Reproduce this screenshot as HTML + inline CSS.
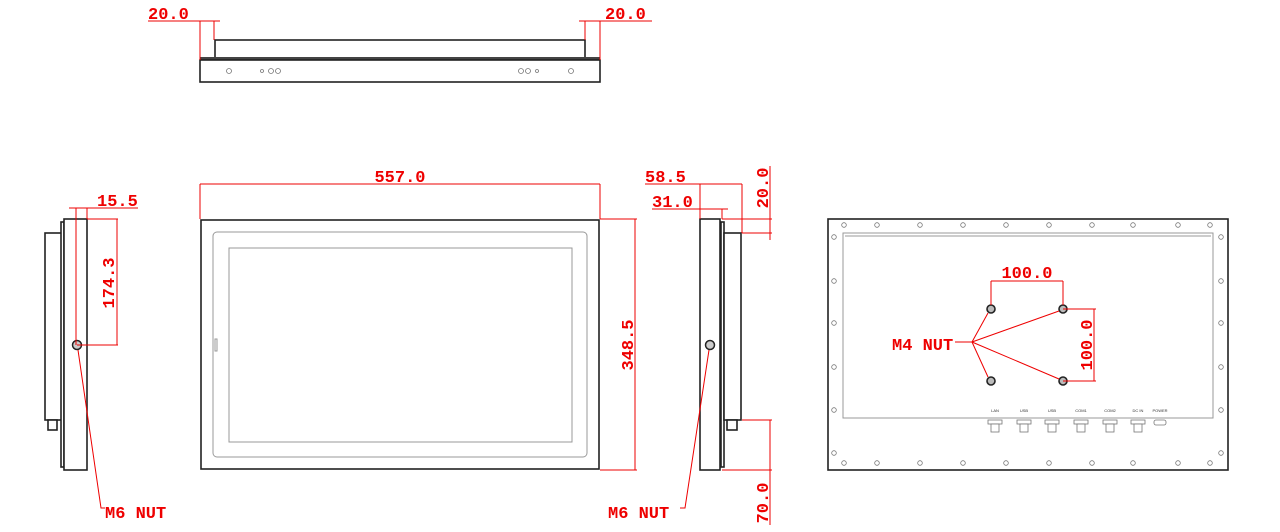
<!DOCTYPE html>
<html><head><meta charset="utf-8"><style>
html,body{margin:0;padding:0;background:#fff;}
svg{display:block;}
.d{font-family:"Liberation Mono",monospace;font-weight:bold;font-size:17px;fill:#e00;}
.r{stroke:#e00;stroke-width:1;fill:none;}
.k{stroke:#222;stroke-width:1.6;fill:#fff;}
.g{stroke:#999;stroke-width:1;fill:none;}
.s{stroke:#777;stroke-width:0.8;fill:#fff;}
.p{font-family:"Liberation Sans",sans-serif;font-size:4px;fill:#333;}
</style></head><body>
<svg width="1280" height="532" viewBox="0 0 1280 532" xmlns="http://www.w3.org/2000/svg">
<!-- TOP VIEW -->
<rect class="k" x="215" y="40" width="370" height="18"/>
<rect x="200" y="57" width="400" height="3" fill="#444"/>
<rect class="k" x="200" y="60" width="400" height="22"/>
<g class="s"><circle cx="229" cy="71" r="2.5"/><circle cx="262" cy="71" r="1.5"/><circle cx="271" cy="71" r="2.5"/><circle cx="278" cy="71" r="2.5"/><circle cx="521" cy="71" r="2.5"/><circle cx="528" cy="71" r="2.5"/><circle cx="537" cy="71" r="1.5"/><circle cx="571" cy="71" r="2.5"/></g>
<line class="r" x1="148" y1="21" x2="220" y2="21"/><line class="r" x1="200" y1="21" x2="200" y2="60"/><line class="r" x1="214" y1="21" x2="214" y2="40"/>
<text class="d" x="148" y="19">20.0</text>
<line class="r" x1="579" y1="21" x2="652" y2="21"/><line class="r" x1="585" y1="21" x2="585" y2="40"/><line class="r" x1="600" y1="21" x2="600" y2="60"/>
<text class="d" x="605" y="19">20.0</text>

<!-- LEFT SIDE VIEW -->
<rect class="k" x="45" y="233" width="17" height="187"/>
<rect class="k" x="61" y="222" width="3" height="245" stroke-width="1"/>
<rect class="k" x="64" y="219" width="23" height="251"/>
<rect class="k" x="48" y="420" width="9" height="10" stroke-width="1"/>
<circle cx="77" cy="345" r="4.5" fill="#ccc" stroke="#222" stroke-width="1.5"/>
<line class="r" x1="69" y1="208" x2="138" y2="208"/><line class="r" x1="76" y1="208" x2="76" y2="345"/><line class="r" x1="87" y1="208" x2="87" y2="219"/>
<text class="d" x="97" y="206">15.5</text>
<line class="r" x1="87" y1="219" x2="118" y2="219"/><line class="r" x1="77" y1="345" x2="118" y2="345"/><line class="r" x1="117" y1="219" x2="117" y2="345"/>
<text class="d" transform="translate(114,283) rotate(-90)" text-anchor="middle">174.3</text>
<polyline class="r" points="78,350 101,508 105,508"/>
<text class="d" x="105" y="518">M6 NUT</text>

<!-- FRONT VIEW -->
<rect class="k" x="201" y="220" width="398" height="249"/>
<rect class="g" x="213" y="232" width="374" height="225" rx="4"/>
<rect class="g" x="229" y="248" width="343" height="194" stroke-width="1.5"/>
<rect class="g" x="215" y="339" width="2" height="12"/>
<line class="r" x1="200" y1="184" x2="600" y2="184"/><line class="r" x1="200" y1="184" x2="200" y2="219"/><line class="r" x1="600" y1="184" x2="600" y2="219"/>
<text class="d" x="400" y="182" text-anchor="middle">557.0</text>
<line class="r" x1="600" y1="219" x2="637" y2="219"/><line class="r" x1="600" y1="470" x2="637" y2="470"/><line class="r" x1="635" y1="219" x2="635" y2="470"/>
<text class="d" transform="translate(633,345) rotate(-90)" text-anchor="middle">348.5</text>

<!-- RIGHT SIDE VIEW -->
<rect class="k" x="700" y="219" width="20" height="251"/>
<rect class="k" x="721" y="222" width="3" height="245" stroke-width="1"/>
<rect class="k" x="724" y="233" width="17" height="187"/>
<rect class="k" x="727" y="420" width="10" height="10" stroke-width="1"/>
<circle cx="710" cy="345" r="4.5" fill="#ccc" stroke="#222" stroke-width="1.5"/>
<line class="r" x1="645" y1="184" x2="742" y2="184"/><line class="r" x1="700" y1="184" x2="700" y2="219"/><line class="r" x1="742" y1="184" x2="742" y2="233"/>
<text class="d" x="645" y="182">58.5</text>
<line class="r" x1="652" y1="209" x2="728" y2="209"/><line class="r" x1="722" y1="209" x2="722" y2="219"/>
<text class="d" x="652" y="207">31.0</text>
<line class="r" x1="722" y1="219" x2="772" y2="219"/><line class="r" x1="742" y1="233" x2="772" y2="233"/><line class="r" x1="770" y1="166" x2="770" y2="240"/>
<text class="d" transform="translate(768,188) rotate(-90)" text-anchor="middle">20.0</text>
<line class="r" x1="742" y1="420" x2="772" y2="420"/><line class="r" x1="722" y1="470" x2="772" y2="470"/><line class="r" x1="770" y1="420" x2="770" y2="525"/>
<text class="d" transform="translate(768,503) rotate(-90)" text-anchor="middle">70.0</text>
<polyline class="r" points="709,350 685,508 680,508"/>
<text class="d" x="608" y="518">M6 NUT</text>

<!-- BACK VIEW -->
<rect class="k" x="828" y="219" width="400" height="251"/>
<rect class="g" x="843" y="233" width="370" height="185"/>
<line class="g" x1="845" y1="236" x2="1211" y2="236"/>
<g class="s">
<circle cx="844" cy="225" r="2.3"/><circle cx="877" cy="225" r="2.3"/><circle cx="920" cy="225" r="2.3"/><circle cx="963" cy="225" r="2.3"/><circle cx="1006" cy="225" r="2.3"/><circle cx="1049" cy="225" r="2.3"/><circle cx="1092" cy="225" r="2.3"/><circle cx="1133" cy="225" r="2.3"/><circle cx="1178" cy="225" r="2.3"/><circle cx="1210" cy="225" r="2.3"/>
<circle cx="844" cy="463" r="2.3"/><circle cx="877" cy="463" r="2.3"/><circle cx="920" cy="463" r="2.3"/><circle cx="963" cy="463" r="2.3"/><circle cx="1006" cy="463" r="2.3"/><circle cx="1049" cy="463" r="2.3"/><circle cx="1092" cy="463" r="2.3"/><circle cx="1133" cy="463" r="2.3"/><circle cx="1178" cy="463" r="2.3"/><circle cx="1210" cy="463" r="2.3"/>
<circle cx="834" cy="237" r="2.3"/><circle cx="834" cy="281" r="2.3"/><circle cx="834" cy="323" r="2.3"/><circle cx="834" cy="367" r="2.3"/><circle cx="834" cy="410" r="2.3"/><circle cx="834" cy="453" r="2.3"/>
<circle cx="1221" cy="237" r="2.3"/><circle cx="1221" cy="281" r="2.3"/><circle cx="1221" cy="323" r="2.3"/><circle cx="1221" cy="367" r="2.3"/><circle cx="1221" cy="410" r="2.3"/><circle cx="1221" cy="453" r="2.3"/>
</g>
<g class="s">
<rect x="988" y="420" width="14" height="4"/><rect x="991" y="424" width="8" height="8"/>
<rect x="1017" y="420" width="14" height="4"/><rect x="1020" y="424" width="8" height="8"/>
<rect x="1045" y="420" width="14" height="4"/><rect x="1048" y="424" width="8" height="8"/>
<rect x="1074" y="420" width="14" height="4"/><rect x="1077" y="424" width="8" height="8"/>
<rect x="1103" y="420" width="14" height="4"/><rect x="1106" y="424" width="8" height="8"/>
<rect x="1131" y="420" width="14" height="4"/><rect x="1134" y="424" width="8" height="8"/>
<rect x="1154" y="420" width="12" height="5" rx="2"/>
</g>
<g class="p" text-anchor="middle">
<text x="995" y="412">LAN</text><text x="1024" y="412">USB</text><text x="1052" y="412">USB</text><text x="1081" y="412">COM1</text><text x="1110" y="412">COM2</text><text x="1138" y="412">DC IN</text><text x="1160" y="412">POWER</text>
</g>
<g fill="#bbb" stroke="#222" stroke-width="1.6">
<circle cx="991" cy="309" r="4"/><circle cx="1063" cy="309" r="4"/><circle cx="991" cy="381" r="4"/><circle cx="1063" cy="381" r="4"/>
</g>
<line class="r" x1="991" y1="281" x2="1063" y2="281"/><line class="r" x1="991" y1="281" x2="991" y2="305"/><line class="r" x1="1063" y1="281" x2="1063" y2="305"/>
<text class="d" x="1027" y="278" text-anchor="middle">100.0</text>
<line class="r" x1="1063" y1="309" x2="1096" y2="309"/><line class="r" x1="1063" y1="381" x2="1096" y2="381"/><line class="r" x1="1094" y1="309" x2="1094" y2="381"/>
<text class="d" transform="translate(1092,345) rotate(-90)" text-anchor="middle">100.0</text>
<text class="d" x="892" y="350">M4 NUT</text>
<g class="r" stroke-width="1.2">
<line x1="955" y1="342" x2="972" y2="342"/>
<line x1="972" y1="342" x2="988" y2="313"/><line x1="972" y1="342" x2="1059" y2="311"/>
<line x1="972" y1="342" x2="988" y2="377"/><line x1="972" y1="342" x2="1059" y2="379"/>
</g>
</svg>
</body></html>
